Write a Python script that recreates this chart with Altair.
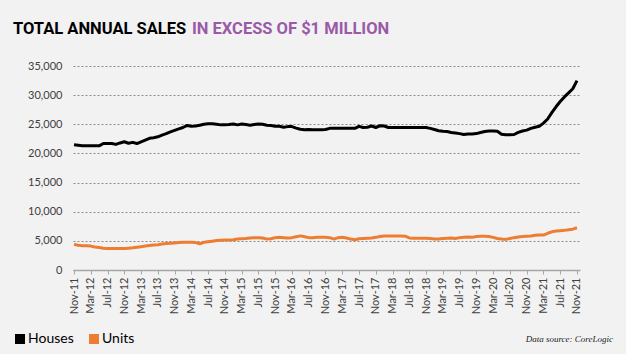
import json
import pandas as pd
import altair as alt

tick_labels = ["Nov-11", "Mar-12", "Jul-12", "Nov-12", "Mar-13", "Jul-13", "Nov-13", "Mar-14",
               "Jul-14", "Nov-14", "Mar-15", "Jul-15", "Nov-15", "Mar-16", "Jul-16", "Nov-16",
               "Mar-17", "Jul-17", "Nov-17", "Mar-18", "Jul-18", "Nov-18", "Mar-19", "Jul-19",
               "Nov-19", "Mar-20", "Jul-20", "Nov-20", "Mar-21", "Jul-21", "Nov-21"]

houses = [21500, 21400, 21300, 21300, 21300, 21300, 21300, 21700, 21700, 21700,
          21550, 21800, 22000, 21750, 21900, 21700, 22000, 22300, 22600, 22700,
          22850, 23150, 23400, 23700, 23950, 24200, 24450, 24800, 24650, 24700,
          24850, 25000, 25100, 25100, 25000, 24900, 24900, 24950, 25050, 24900,
          25050, 24950, 24850, 24950, 25050, 25000, 24850, 24800, 24650, 24650,
          24500, 24600, 24600, 24350, 24150, 24050, 24100, 24050, 24050, 24050,
          24100, 24300, 24300, 24300, 24300, 24300, 24300, 24300, 24650, 24450,
          24500, 24700, 24450, 24750, 24700, 24450, 24450, 24450, 24450, 24450,
          24450, 24450, 24450, 24450, 24450, 24300, 24100, 23900, 23800, 23750,
          23600, 23500, 23400, 23250, 23350, 23350, 23400, 23600, 23750, 23850,
          23850, 23800, 23300, 23200, 23200, 23250, 23600, 23850, 24000, 24300,
          24500, 24650, 25200, 25900, 27000, 28000, 28900, 29700, 30400, 31100,
          32500]

units = [4400, 4250, 4150, 4150, 4100, 3950, 3850, 3750, 3700, 3700,
         3700, 3700, 3700, 3750, 3800, 3900, 4000, 4100, 4200, 4300,
         4350, 4450, 4550, 4600, 4650, 4700, 4750, 4750, 4750, 4700,
         4500, 4750, 4850, 4950, 5050, 5100, 5150, 5150, 5200, 5300,
         5350, 5400, 5500, 5550, 5550, 5500, 5300, 5350, 5550, 5600,
         5550, 5500, 5550, 5700, 5850, 5700, 5550, 5550, 5600, 5600,
         5600, 5550, 5300, 5550, 5600, 5500, 5300, 5200, 5350, 5400,
         5450, 5500, 5600, 5750, 5850, 5850, 5850, 5850, 5850, 5800,
         5500, 5450, 5450, 5450, 5450, 5400, 5300, 5300, 5400, 5450,
         5500, 5400, 5550, 5600, 5650, 5600, 5750, 5800, 5800, 5750,
         5600, 5400, 5300, 5250, 5400, 5550, 5650, 5750, 5800, 5850,
         5950, 6000, 6000, 6300, 6550, 6700, 6750, 6800, 6900, 7000,
         7250]

series_names = ["Houses", "Units"]
series_colors = ["#000000", "#ed7d31"]

rows = []
for i, v in enumerate(houses):
    rows.append({"m": i, "series": "Houses", "value": v})
for i, v in enumerate(units):
    rows.append({"m": i, "series": "Units", "value": v})
df = pd.DataFrame(rows)

label_expr = json.dumps(tick_labels) + "[round(datum.value / 4)]"

lines = alt.Chart(df).mark_line(strokeWidth=3, strokeJoin="round").encode(
    x=alt.X("m:Q", title=None,
            scale=alt.Scale(domain=[-0.24, 120.72], nice=False, zero=False),
            axis=alt.Axis(values=list(range(0, 121, 4)), labelExpr=label_expr,
                          labelAngle=-90, labelAlign="right", labelBaseline="middle",
                          labelFont="Lato", labelFontSize=11, labelColor="#404040",
                          labelPadding=3, tickSize=4, tickColor="#a6a6a6",
                          domainColor="#a6a6a6", domainWidth=1.5, grid=False,
                          labelOverlap=False)),
    y=alt.Y("value:Q", title=None,
            scale=alt.Scale(domain=[0, 35000], nice=False),
            axis=alt.Axis(values=list(range(0, 35001, 5000)), format=",.0f",
                          labelFont="Lato", labelFontSize=11, labelColor="#404040",
                          labelPadding=11, ticks=False, domain=False,
                          grid=True, gridColor="#8c8c8c", gridDash=[2, 2], gridWidth=1)),
    color=alt.Color("series:N", title=None,
                    scale=alt.Scale(domain=series_names, range=series_colors),
                    legend=alt.Legend(orient="none", legendX=-60, legendY=266,
                                      direction="horizontal", symbolType="square",
                                      symbolSize=16, symbolStrokeWidth=6,
                                      labelFont="Lato", labelFontSize=14, labelColor="#000000",
                                      labelOffset=1, columnPadding=6)),
    order="m:Q",
)

title_font = "Roboto"

title_a = alt.Chart(pd.DataFrame({"t": ["TOTAL ANNUAL SALES"]})).mark_text(
    align="left", baseline="alphabetic", font=title_font,
    fontSize=16.5, fontWeight="bold", color="#000000"
).encode(x=alt.value(-60), y=alt.value(-32), text="t:N")

title_b = alt.Chart(pd.DataFrame({"t": ["IN EXCESS OF $1 MILLION"]})).mark_text(
    align="left", baseline="alphabetic", font=title_font,
    fontSize=16.5, fontWeight="bold", color="#9a5aa8"
).encode(x=alt.value(119), y=alt.value(-32), text="t:N")

source = alt.Chart(pd.DataFrame({"t": ["Data source: CoreLogic"]})).mark_text(
    align="right", baseline="alphabetic", font="Liberation Serif", fontStyle="italic",
    fontSize=9, color="#222222"
).encode(x=alt.value(540), y=alt.value(276), text="t:N")

chart = alt.layer(lines, title_a, title_b, source).properties(
    width=507, height=204,
    background="#f2f2f2",
    padding={"left": 73, "top": 66, "right": 46, "bottom": 84},
    autosize=alt.AutoSizeParams(type="none"),
).configure_view(stroke=None)

chart.save("out.html", embed_options={"renderer": "svg", "actions": False})
